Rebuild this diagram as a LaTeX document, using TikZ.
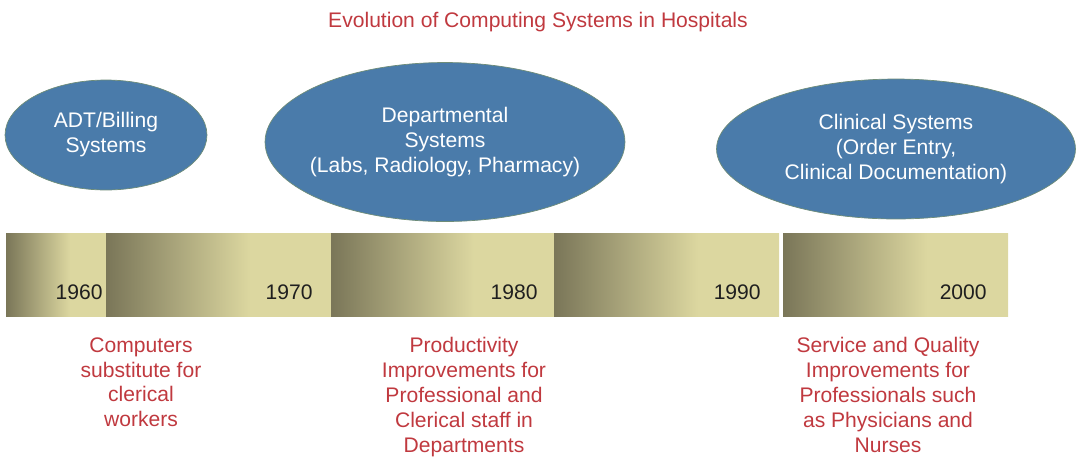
\documentclass[tikz,border=0pt]{standalone}
\usepackage{fontspec}
\setmainfont{Liberation Sans}
\usetikzlibrary{positioning, shapes.geometric}
\definecolor{eraBlue}{RGB}{74,123,170}
\definecolor{eraEdge}{RGB}{110,140,120}
\definecolor{noteRed}{RGB}{192,57,63}
\definecolor{barDark}{RGB}{122,118,88}
\definecolor{barLight}{RGB}{220,215,160}
\pgfdeclarehorizontalshading{barshade}{100bp}{color(0bp)=(barDark); color(25bp)=(barDark); color(57bp)=(barLight); color(100bp)=(barLight)}
\tikzset{every node/.append style={execute at begin node={\hyphenpenalty=10000\exhyphenpenalty=10000\relax}}}

\begin{document}
\begin{tikzpicture}[x=0.02cm, y=-0.02cm, font=\fontsize{12}{14.2}\selectfont,
  era/.style={ellipse, draw=eraEdge, line width=0.4pt, fill=eraBlue, inner sep=0pt},
  eratext/.style={text=white, align=center, inner sep=0pt},
  impact/.style={text=noteRed, align=center, inner sep=0pt, anchor=north},
  yr/.style={text=black!88, inner sep=0pt, anchor=east}]
  \useasboundingbox (0,0) rectangle (1076,458);
  % title
  \node[text=noteRed, inner sep=0pt] (title) at (538,22) {Evolution of Computing Systems in Hospitals};
  % eras
  \node[era, minimum width=4.04cm, minimum height=2.2cm,
    label={[eratext]center:ADT/Billing\\Systems}] (adt) at (106,135) {};
  \node[era, minimum width=7.2cm, minimum height=3.18cm,
    label={[eratext]center:Departmental\\Systems\\(Labs, Radiology, Pharmacy)}] (dept) at (445,142) {};
  \node[era, minimum width=7.18cm, minimum height=2.8cm,
    label={[eratext]center:Clinical Systems\\(Order Entry,\\Clinical Documentation)}] (clin) at (896,149) {};
  % time bar
  \foreach \a/\b/\lx/\yr [count=\i] in {6/106/103/1960, 106/331/313/1970, 331/554/538/1980, 554/779/761/1990, 783/1008/987/2000} {
    \shade[shading=barshade] (\a,233) rectangle (\b,316);
    \node[yr] (y\i) at (\lx,292) {\yr};
  }
  % impacts
  \node[impact] (clerical) at (141,337) {Computers\\substitute for\\clerical\\workers};
  \node[impact] (product) at (464,337) {Productivity\\Improvements for\\Professional and\\Clerical staff in\\Departments};
  \node[impact] (quality) at (888,337) {Service and Quality\\Improvements for\\Professionals such\\as Physicians and\\Nurses};
\end{tikzpicture}
\end{document}
